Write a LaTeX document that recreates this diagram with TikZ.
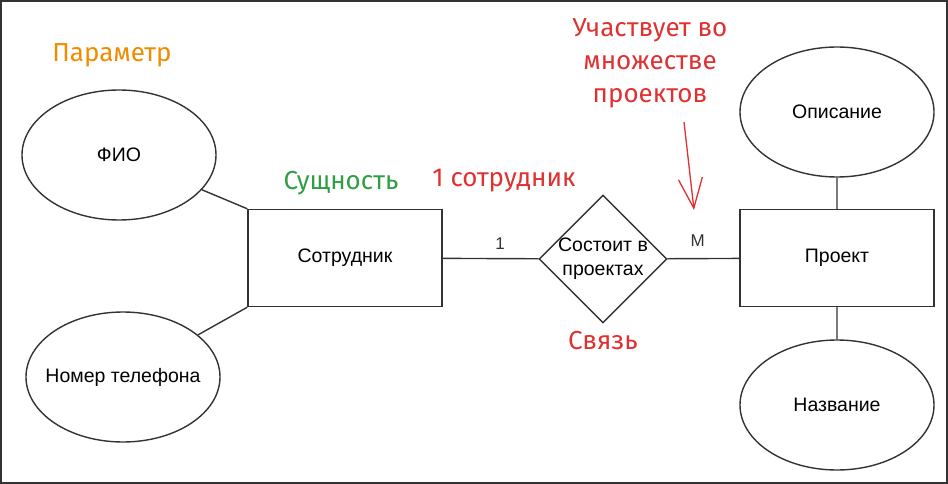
\documentclass[tikz,border=0pt]{standalone}
\usepackage{fontspec}
\setmainfont{Liberation Sans}
\newfontfamily\handfont{Fira Sans}
\usetikzlibrary{shapes.geometric,arrows.meta}
\definecolor{notered}{HTML}{E03131}
\definecolor{noteorange}{HTML}{F08C00}
\definecolor{notegreen}{HTML}{2F9E44}
\definecolor{linegray}{HTML}{333333}
\begin{document}
\begin{tikzpicture}[x=1pt,y=-1pt,
  entity/.style={draw=linegray,line width=1.4pt,minimum width=194pt,minimum height=97pt,font=\fontsize{19.5}{23}\selectfont},
  attr/.style={draw=linegray,ellipse,line width=1.4pt,inner xsep=-25pt,inner ysep=0pt,minimum width=194pt,minimum height=130pt,font=\fontsize{19.5}{23}\selectfont},
  rel/.style={draw=linegray,diamond,line width=1.4pt,inner sep=-6pt,minimum size=128pt,align=center,font=\fontsize{19.5}{24}\selectfont},
  card/.style={font=\fontsize{17}{19}\selectfont},
  note/.style={font=\handfont\fontsize{26}{33}\selectfont,align=center}]
   \useasboundingbox (0,0) rectangle (948,484);
   \draw[linegray,line width=2pt] (1,1) rectangle (947,483);
   % entities and relation
   \node[entity] (emp) at (345,258) {Сотрудник};
   \node[entity] (proj) at (837,258) {Проект};
   \node[rel] (part) at (603,259) {Состоит в\\проектах};
   % attributes
   \node[attr] (fio) at (119,155) {ФИО};
   \node[attr] (phone) at (123,377) {Номер телефона};
   \node[attr] (descr) at (837,112) {Описание};
   \node[attr] (title) at (837,405) {Название};
   \draw[linegray,line width=1.4pt] (fio) -- (emp.north west) (phone) -- (emp.south west)
     (descr) -- (proj) (proj) -- (title);
   \draw[linegray,line width=1.4pt] (emp) -- node[card,pos=.6,above=5pt]{1} (part);
   \draw[linegray,line width=1.4pt] (part) -- node[card,pos=.42,above=8pt]{M} (proj);
   % notes
   \node[note,noteorange] (paramnote) at (112,55) {Параметр};
   \node[note,notegreen] (entnote) at (341,183) {Сущность};
   \node[note,notered] (onenote) at (504,181) {1 сотрудник};
   \node[note,notered] (relnote) at (603,341) {Связь};
   \node[note,notered] (manynote) at (650,63) {Участвует во\\множестве\\проектов};
   \coordinate (arrtop) at (684,122);
   \coordinate (arrtip) at (694,210);
   \draw[notered,line width=1.3pt,-{Straight Barb[length=30pt,width=24pt]}] (arrtop) -- (arrtip);
 \end{tikzpicture}
\end{document}
